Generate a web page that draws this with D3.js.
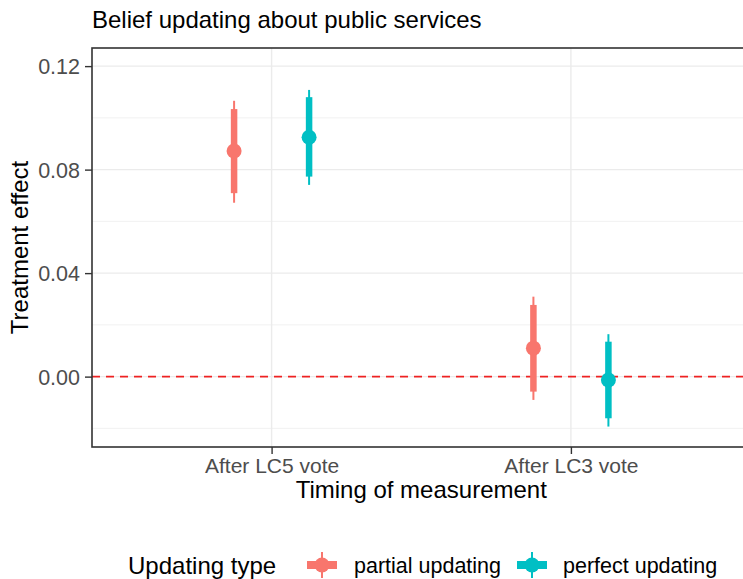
<!DOCTYPE html>
<html><head><meta charset="utf-8">
<script src="https://cdn.jsdelivr.net/npm/d3@7"></script>
<style>body{margin:0;background:#fff;} text{font-family:"Liberation Sans",Arial,sans-serif;}</style>
</head><body>
<svg id="c" width="743" height="579"></svg>
<script>
const categories = ["After LC5 vote", "After LC3 vote"];
const seriesNames = ["partial updating", "perfect updating"];
const seriesColors = ["#F8766D", "#00BFC4"];
// estimate, thick lo, thick hi, thin lo, thin hi per category
const partialEst = [0.0872, 0.0110];
const partialLo90 = [0.0709, -0.0058];
const partialHi90 = [0.1034, 0.0277];
const partialLo95 = [0.0672, -0.0090];
const partialHi95 = [0.1066, 0.0309];
const perfectEst = [0.0925, -0.0013];
const perfectLo90 = [0.0773, -0.0161];
const perfectHi90 = [0.1080, 0.0135];
const perfectLo95 = [0.0741, -0.0193];
const perfectHi95 = [0.1108, 0.0164];
const yTicks = [0.00, 0.04, 0.08, 0.12];
const yMinor = [-0.02, 0.02, 0.06, 0.10];

const series = [
  {name: seriesNames[0], color: seriesColors[0], est: partialEst, lo90: partialLo90, hi90: partialHi90, lo95: partialLo95, hi95: partialHi95},
  {name: seriesNames[1], color: seriesColors[1], est: perfectEst, lo90: perfectLo90, hi90: perfectHi90, lo95: perfectLo95, hi95: perfectHi95}
];

const svg = d3.select("#c");
const L = 92, R = 750.5, T = 48, B = 447;
const y = d3.scaleLinear().domain([-0.0272, 0.127]).range([B, T]);
const xPos = d3.scalePoint().domain(categories).range([L + 0.6*(R-L)/2.2, R - 0.6*(R-L)/2.2]);
const dodge = d3.scaleBand().domain(seriesNames).range([-75, 75]).padding(0);
const g = svg.append("g");

// minor grid
g.selectAll(".ymin").data(yMinor).join("line")
  .attr("x1", L).attr("x2", R).attr("y1", d=>y(d)).attr("y2", d=>y(d))
  .attr("stroke", "#ebebeb").attr("stroke-width", 0.7);
// major grid
g.selectAll(".ymaj").data(yTicks).join("line")
  .attr("x1", L).attr("x2", R).attr("y1", d=>y(d)).attr("y2", d=>y(d))
  .attr("stroke", "#ebebeb").attr("stroke-width", 1.4);
g.selectAll(".xmaj").data(categories).join("line")
  .attr("x1", d=>xPos(d)).attr("x2", d=>xPos(d)).attr("y1", T).attr("y2", B)
  .attr("stroke", "#ebebeb").attr("stroke-width", 1.4);

// zero line
g.append("line").attr("x1", L).attr("x2", R).attr("y1", y(0)).attr("y2", y(0))
  .attr("stroke", "#ee2222").attr("stroke-width", 1.6).attr("stroke-dasharray", "8,6");

// marks
series.forEach(s => {
  const off = dodge(s.name) + dodge.bandwidth()/2;
  categories.forEach((c, i) => {
    const cx = xPos(c) + off;
    g.append("line").attr("x1", cx).attr("x2", cx).attr("y1", y(s.lo95[i])).attr("y2", y(s.hi95[i]))
      .attr("stroke", s.color).attr("stroke-width", 2);
    g.append("line").attr("x1", cx).attr("x2", cx).attr("y1", y(s.lo90[i])).attr("y2", y(s.hi90[i]))
      .attr("stroke", s.color).attr("stroke-width", 6.5);
    g.append("circle").attr("cx", cx).attr("cy", y(s.est[i])).attr("r", 7.5).attr("fill", s.color);
  });
});

// panel border
g.append("rect").attr("x", L).attr("y", T).attr("width", R-L).attr("height", B-T)
  .attr("fill", "none").attr("stroke", "#333333").attr("stroke-width", 1.6);

// y axis
const yAxis = svg.append("g").attr("transform", `translate(${L},0)`)
  .call(d3.axisLeft(y).tickValues(yTicks).tickFormat(d3.format(".2f")).tickSize(7).tickPadding(5));
yAxis.select(".domain").remove();
yAxis.selectAll("line").attr("stroke", "#333").attr("stroke-width", 1.4);
yAxis.selectAll("text").attr("font-size", 21.5).attr("fill", "#4d4d4d").attr("dy", "0.35em")
  .style("font-family", "Liberation Sans, Arial, sans-serif");

// x axis
const xAxis = svg.append("g").attr("transform", `translate(0,${B})`)
  .call(d3.axisBottom(xPos).tickSize(7).tickPadding(4));
xAxis.select(".domain").remove();
xAxis.selectAll("line").attr("stroke", "#333").attr("stroke-width", 1.4);
xAxis.selectAll("text").attr("font-size", 21).attr("fill", "#4d4d4d")
  .style("font-family", "Liberation Sans, Arial, sans-serif");

// titles
svg.append("text").attr("x", L).attr("y", 28).attr("font-size", 24).attr("fill", "#000").text("Belief updating about public services");
svg.append("text").attr("x", (L+R)/2).attr("y", 498).attr("text-anchor", "middle").attr("font-size", 24).attr("fill", "#000").text("Timing of measurement");
svg.append("text").attr("transform", `translate(28,${(T+B)/2}) rotate(-90)`).attr("text-anchor", "middle").attr("font-size", 24).attr("fill", "#000").text("Treatment effect");

// legend
const ly = 565;
svg.append("text").attr("x", 128).attr("y", 574).attr("font-size", 24).attr("fill", "#000").text("Updating type");
const keyX = [322, 532];
const textX = [354, 563];
series.forEach((s, i) => {
  const kx = keyX[i];
  svg.append("line").attr("x1", kx).attr("x2", kx).attr("y1", ly-13).attr("y2", ly+13).attr("stroke", s.color).attr("stroke-width", 2);
  svg.append("line").attr("x1", kx-15).attr("x2", kx+15).attr("y1", ly).attr("y2", ly).attr("stroke", s.color).attr("stroke-width", 8);
  svg.append("circle").attr("cx", kx).attr("cy", ly).attr("r", 7.5).attr("fill", s.color);
  svg.append("text").attr("x", textX[i]).attr("y", 573).attr("font-size", 21.5).attr("fill", "#000").text(s.name);
});
</script>
</body></html>
